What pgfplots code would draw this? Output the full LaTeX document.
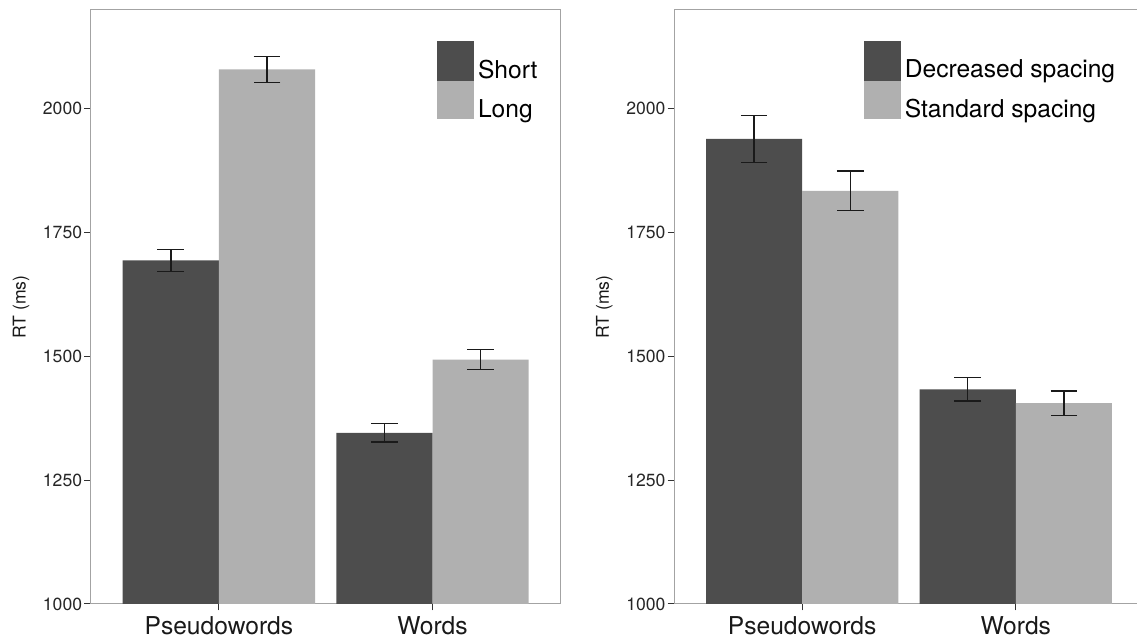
\documentclass[border=0pt]{standalone}
\usepackage{fontspec}
\setmainfont{TeX Gyre Heros}
\usepackage{pgfplots}
\usepackage{pgfplotstable}
\pgfplotsset{compat=1.18}
\definecolor{darkbar}{HTML}{4D4D4D}
\definecolor{lightbar}{HTML}{B0B0B0}
\definecolor{framec}{HTML}{A3A3A3}
\definecolor{errc}{HTML}{1A1A1A}

% x: category position (1 = Pseudowords, 2 = Words) shifted by half a bar
\pgfplotstableread{
x y e
0.775 1693 22
1.775 1345 18.5
}\leftshort
\pgfplotstableread{
x y e
1.225 2078 26
2.225 1493 20
}\leftlong
\pgfplotstableread{
x y e
0.775 1938 47
1.775 1433 23.5
}\rightdec
\pgfplotstableread{
x y e
1.225 1833 40
2.225 1405 24.5
}\rightstd

\pgfplotsset{
 panel/.style={
  scale only axis, width=235pt, height=297pt,
  xmin=0.4, xmax=2.6, ymin=1000, ymax=2198,
  xtick={1,2}, xticklabels={Pseudowords,Words},
  ytick={1000,1250,1500,1750,2000},
  /pgf/number format/1000 sep={},
  /pgf/number format/assume math mode=true,
  axis line style={framec, line width=0.5pt},
  tick align=outside, major tick length=3.2pt,
  every tick/.style={black!80, line width=0.5pt},
  xtick pos=bottom, ytick pos=left,
  yticklabel style={font=\fontsize{8.8}{10}\selectfont, color=black!85, inner sep=0pt, xshift=-0.9pt},
  xticklabel style={font=\fontsize{12.3}{14}\selectfont, color=black!90, inner sep=0pt, yshift=-2.8pt},
  ylabel={RT (ms)},
  ylabel style={font=\fontsize{8.8}{10}\selectfont, color=black!90, at={(axis description cs:-0.148,0.5)}, anchor=center},
  legend style={draw=none, fill=none, anchor=north west, font=\fontsize{12.3}{14}\selectfont, inner sep=0pt, row sep=0pt, column sep=2pt, nodes={inner sep=0pt}},
  legend cell align=left,
  legend image code/.code={\fill[#1, draw=none] (0pt,-4.3pt) rectangle (18.5pt,14.6pt);},
 },
 topkey/.style={legend image code/.code={%
   \fill[##1, draw=none] (0pt,-4.3pt) rectangle (18.5pt,14.6pt);
   \fill[##1, draw=none, overlay] (0pt,-6pt) rectangle (18.5pt,-4pt);}},
 bars/.style={ybar, bar width=0.45, bar shift=0pt, draw=none,
  error bars/y dir=both, error bars/y explicit,
  error bars/error bar style={errc, line width=0.7pt},
  error bars/error mark options={rotate=90, errc, mark size=6.67pt, line width=0.7pt}},
}

\begin{document}
\begin{tikzpicture}
\begin{axis}[panel, at={(45.35pt,18pt)}, anchor=south west,
  legend style={at={(axis description cs:0.736,0.948)}}]
\addplot[bars, fill=darkbar, topkey] table[x=x, y=y, y error=e] {\leftshort};
\addlegendentry{Short}
\addplot[bars, fill=lightbar] table[x=x, y=y, y error=e] {\leftlong};
\addlegendentry{Long}
\end{axis}
\begin{axis}[panel, at={(337pt,18pt)}, anchor=south west,
  legend style={at={(axis description cs:0.403,0.948)}}]
\addplot[bars, fill=darkbar, topkey] table[x=x, y=y, y error=e] {\rightdec};
\addlegendentry{Decreased spacing}
\addplot[bars, fill=lightbar] table[x=x, y=y, y error=e] {\rightstd};
\addlegendentry{Standard spacing}
\end{axis}
\pgfresetboundingbox
\useasboundingbox (0,0) rectangle (568.5pt,320pt);
\end{tikzpicture}
\end{document}
